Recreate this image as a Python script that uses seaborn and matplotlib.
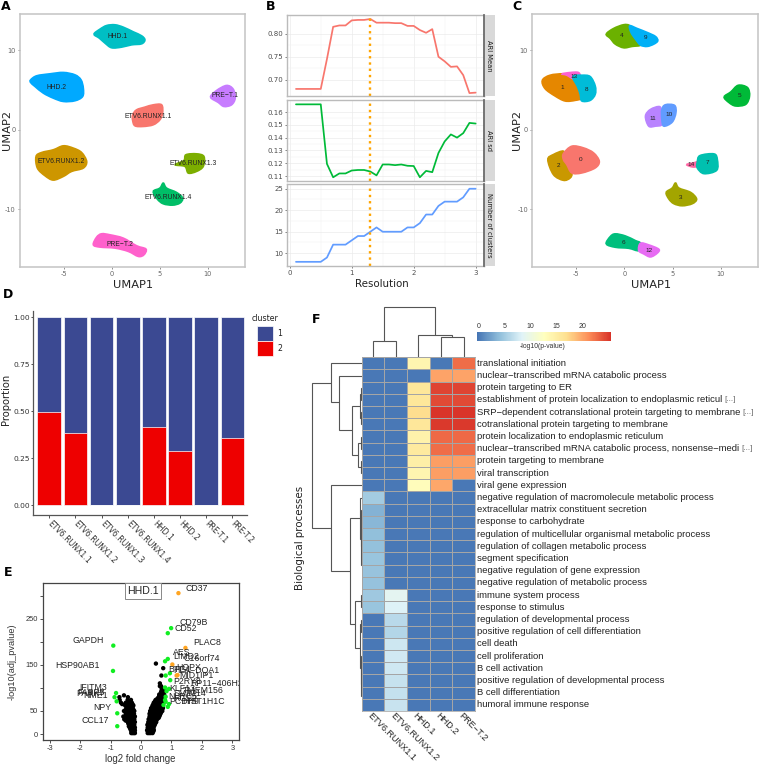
import numpy as np
import pandas as pd
import matplotlib
matplotlib.use('Agg')
import matplotlib.pyplot as plt
import seaborn as sns
from matplotlib.colors import LinearSegmentedColormap
from matplotlib.patches import PathPatch, Rectangle
from matplotlib.path import Path

W, H = 759, 765
SANS = 'Liberation Sans'

# panel A outlines, UMAP units
hhd1_x = [-1.84, -1.22, -0.52, 0.35, 1.22, 2.26, 3.13, 3.47, 3.13, 2.08, 1.04, 0, -0.69, -1.28]
hhd1_y = [12.06, 12.69, 13.15, 13.24, 12.94, 12.35, 11.85, 11.34, 10.84, 10.71, 10.42, 10.34, 10.92, 11.55]
hhd2_x = [-8.44, -7.81, -6.42, -5.03, -3.82, -3.19, -2.95, -3.02, -3.82, -5.03, -6.08, -7.12, -7.99, -8.44]
hhd2_y = [6.3, 6.81, 7.06, 7.23, 6.93, 6.3, 5.25, 4.2, 3.66, 3.57, 3.99, 4.62, 5.46, 5.96]
etv1_x = [2.19, 2.6, 3.47, 4.34, 5.21, 5.31, 5.03, 4.34, 3.3, 2.43, 2.19]
etv1_y = [1.89, 2.52, 2.86, 3.15, 3.15, 2.1, 1.26, 0.63, 0.42, 0.5, 1.18]
etv2_x = [-7.88, -7.29, -6.08, -5.03, -3.99, -3.13, -2.6, -2.95, -4.17, -5.03, -6.08, -6.94, -7.74]
etv2_y = [-3.36, -2.86, -2.52, -2.02, -2.31, -2.86, -3.99, -4.83, -5.25, -5.88, -6.34, -5.8, -4.83]
etv3_x = [6.6, 7.53, 7.74, 8.85, 9.62, 9.55, 8.85, 7.99, 7.64]
etv3_y = [-4.41, -3.87, -3.15, -3.03, -3.36, -4.62, -5.25, -5.46, -4.62]
etv4_x = [4.34, 5.03, 5.38, 5.73, 6.77, 7.4, 7.12, 6.35, 5.38, 4.76]
etv4_y = [-7.77, -7.35, -6.72, -7.35, -7.9, -8.61, -9.24, -9.5, -9.33, -8.74]
pre1_x = [10.31, 10.94, 11.98, 12.67, 12.88, 12.5, 11.7, 11.11]
pre1_y = [4.12, 4.96, 5.59, 5.13, 3.99, 3.15, 2.94, 3.45]
pre2_x = [-1.91, -1.56, -1.04, -0.17, 1.22, 2.6, 3.58, 3.37, 2.78, 1.74, 0.35, -1.22]
pre2_y = [-14.5, -13.53, -13.11, -13.24, -13.66, -14.62, -15.04, -15.76, -15.97, -15.34, -14.92, -14.79]

samples = ['ETV6.RUNX1.1', 'ETV6.RUNX1.2', 'ETV6.RUNX1.3', 'ETV6.RUNX1.4', 'HHD.1', 'HHD.2', 'PRE-T.1', 'PRE-T.2']
samples_label_x = [3.82, -5.28, 8.51, 5.9, 0.63, -5.73, 11.84, 0.87]
samples_label_y = [1.64, -3.95, -4.24, -8.49, 11.72, 5.34, 4.33, -14.45]

# panel C outlines, one per cluster
c0_x = [-6.32, -5.45, -4.24, -3.19, -2.6, -3.02, -4.41, -5.45, -5.97, -6.32]
c0_y = [-3, -2.07, -2.28, -2.91, -3.97, -4.81, -5.44, -5.44, -4.39, -3.76]
c1_x = [-8.51, -7.71, -6.32, -5.35, -4.93, -4.41, -5.1, -6.15, -7.19, -8.23]
c1_y = [6.24, 6.88, 7.05, 6.71, 5.32, 4.05, 3.71, 3.63, 4.26, 5.19]
c2_x = [-7.94, -7.36, -6.32, -6.32, -5.97, -5.45, -5.63, -6.32, -7.36]
c2_y = [-3.76, -3.12, -2.7, -3.76, -4.39, -5.44, -6.08, -6.37, -5.65]
c3_x = [4.34, 4.97, 5.31, 5.66, 6.88, 7.5, 7.05, 6.01, 5.14, 4.62]
c3_y = [-7.89, -7.34, -6.71, -7.34, -7.89, -8.73, -9.32, -9.58, -9.32, -8.73]
c4_x = [-1.88, -1.11, -0.07, 0.56, 0.69, 1.15, 1.67, 0.8, -0.07, -0.94, -1.46]
c4_y = [12.07, 12.78, 13.25, 13.12, 12.28, 11.43, 10.68, 10.51, 10.34, 10.8, 11.52]
c5_x = [10.35, 11.04, 11.81, 12.78, 12.99, 12.6, 11.56, 10.87]
c5_y = [4.14, 4.77, 5.61, 5.32, 4.26, 3.21, 3, 3.42]
c6_x = [-1.88, -1.46, -0.94, 0.1, 1.15, 1.67, 1.49, 0.45, -0.94]
c6_y = [-14.39, -13.46, -13.12, -13.38, -13.97, -14.3, -15.23, -14.94, -14.81]
c7_x = [7.57, 7.85, 9.31, 9.65, 9.58, 8.26, 7.57]
c7_y = [-4.05, -3.25, -3.04, -3.76, -5.11, -5.53, -4.81]
c8_x = [-5.35, -4.41, -3.54, -3.02, -3.02, -3.54, -4.41, -4.58, -4.86]
c8_y = [6.71, 6.88, 6.71, 5.53, 4.47, 3.71, 3.63, 4.47, 5.44]
c9_x = [0.56, 1.32, 2.36, 3.23, 3.47, 3.06, 2.36, 1.67, 1.15, 0.69]
c9_y = [13.12, 12.78, 12.28, 11.77, 11.22, 10.8, 10.51, 10.68, 11.43, 12.28]
c10_x = [3.89, 4.27, 5.21, 5.35, 4.97, 4.1, 3.89]
c10_y = [2.57, 3.16, 3.08, 2.15, 0.97, 0.46, 1.31]
c11_x = [2.19, 2.71, 3.68, 3.82, 3.92, 3.23, 2.53]
c11_y = [1.73, 2.57, 2.91, 1.94, 0.68, 0.46, 0.46]
c12_x = [1.67, 2.53, 3.58, 3.4, 2.71, 2.01, 1.49]
c12_y = [-14.3, -14.51, -15.06, -15.57, -16.03, -15.65, -15.23]
c13_x = [-6.49, -5.63, -4.76, -4.58, -5.21, -5.97]
c13_y = [7.05, 7.22, 7.22, 6.58, 6.37, 6.88]
c14_x = [6.46, 7.15, 7.64, 7.57, 7.05]
c14_y = [-4.39, -4.18, -4.05, -4.6, -4.68]
cluster_label_x = [-4.58, -6.42, -6.81, 5.87, -0.24, 11.91, -0.07, 8.58, -3.92, 2.22, 4.62, 2.99, 2.6, -5.21, 6.91]
cluster_label_y = [-3.71, 5.32, -4.56, -8.52, 11.86, 4.3, -14.22, -4.18, 5.02, 11.6, 1.94, 1.39, -15.23, 6.75, -4.43]

# panel B
resolution = [0.1, 0.2, 0.3, 0.4, 0.5, 0.6, 0.7, 0.8, 0.9, 1.0, 1.1, 1.2, 1.3, 1.4, 1.5,
              1.6, 1.7, 1.8, 1.9, 2.0, 2.1, 2.2, 2.3, 2.4, 2.5, 2.6, 2.7, 2.8, 2.9, 3.0]
ari_mean = [0.68, 0.68, 0.68, 0.68, 0.68, 0.745, 0.815, 0.818, 0.818, 0.829, 0.83, 0.83, 0.832, 0.824, 0.824,
            0.824, 0.823, 0.823, 0.817, 0.817, 0.808, 0.802, 0.81, 0.75, 0.74, 0.728, 0.729, 0.71, 0.671, 0.672]
ari_sd = [0.166, 0.166, 0.166, 0.166, 0.166, 0.1195, 0.109, 0.112, 0.112, 0.1143, 0.1147, 0.1147, 0.1135, 0.1105, 0.119,
          0.119, 0.1185, 0.119, 0.118, 0.1178, 0.109, 0.114, 0.113, 0.128, 0.137, 0.1425, 0.14, 0.1435, 0.1515, 0.151]
n_clusters = [8, 8, 8, 8, 8, 9, 12, 12, 12, 13, 14, 14, 15, 16, 15,
              15, 15, 15, 16, 16, 17, 19, 19, 21, 22, 22, 22, 23, 25, 25]

# panel D
proportion_total = [1, 1, 1, 1, 1, 1, 1, 1]
proportion_2 = [0.495, 0.385, 0, 0, 0.415, 0.29, 0, 0.355]

# panel E
orange_fc = [1.23, 1.46, 1.03, 1.17, 1.2]
orange_p = [306, 187, 151, 127, 128]
green_fc = [0.99, 0.88, -0.91, -0.92, 0.88, 0.79, 0.95, 0.81, 0.96, 0.79, 0.92, 0.84, 0.81, 0.81, 0.74, 0.92,
            0.88, 0.79, -0.82, -0.87, -0.8, -0.78, -0.78]
green_p = [230, 219, 192, 137, 163, 158, 132, 127, 117, 101, 98, 93, 81, 70, 63, 65,
           59, 74, 89, 80, 71, 45, 17]
black_left_levels = [2, 5, 8, 11, 14, 17, 20, 23, 26, 29, 32, 35, 38, 41, 44, 47, 50, 53, 56, 59, 62, 65, 68, 74, 80, 84]
black_left_rows = [[-0.2, -0.24, -0.28, -0.32], [-0.22, -0.26, -0.3], [-0.2, -0.27, -0.33], [-0.23, -0.3, -0.35],
                   [-0.2, -0.25, -0.31, -0.37], [-0.24, -0.33, -0.4], [-0.22, -0.3, -0.38], [-0.25, -0.34, -0.42],
                   [-0.2, -0.27, -0.35, -0.43], [-0.24, -0.32, -0.4, -0.5], [-0.22, -0.3, -0.38, -0.46, -0.55],
                   [-0.25, -0.34, -0.42, -0.5], [-0.2, -0.28, -0.36, -0.44, -0.58], [-0.26, -0.38, -0.46],
                   [-0.23, -0.33, -0.42, -0.5], [-0.28, -0.37, -0.45], [-0.22, -0.3, -0.38, -0.46, -0.56],
                   [-0.25, -0.33, -0.41, -0.5], [-0.27, -0.35, -0.44], [-0.3, -0.38, -0.48], [-0.25, -0.33, -0.42, -0.52],
                   [-0.28, -0.36, -0.46, -0.62], [-0.3, -0.38, -0.5, -0.66], [-0.33, -0.44, -0.7], [-0.43, -0.71], [-0.56]]
black_right_levels = [2, 5, 8, 11, 14, 17, 20, 23, 26, 29, 32, 35, 38, 41, 44, 47, 50, 53, 56, 59, 62, 65, 68, 71, 74,
                      77, 80, 83, 86, 92, 98, 104, 110, 127, 143, 153]
black_right_rows = [[0.22, 0.27, 0.32, 0.38], [0.24, 0.29, 0.35, 0.4], [0.2, 0.26, 0.31, 0.37, 0.42], [0.23, 0.29, 0.35, 0.41],
                    [0.22, 0.28, 0.34, 0.4], [0.24, 0.3, 0.37, 0.43], [0.21, 0.27, 0.33, 0.39, 0.45], [0.25, 0.32, 0.4, 0.47],
                    [0.24, 0.3, 0.36, 0.44, 0.5], [0.27, 0.34, 0.41, 0.49], [0.25, 0.31, 0.38, 0.45, 0.53],
                    [0.29, 0.36, 0.43, 0.51, 0.58], [0.28, 0.35, 0.42, 0.5, 0.6], [0.31, 0.38, 0.46, 0.54, 0.62],
                    [0.28, 0.34, 0.41, 0.48, 0.56, 0.64], [0.32, 0.4, 0.48, 0.57, 0.66],
                    [0.3, 0.38, 0.46, 0.54, 0.62, 0.7], [0.35, 0.43, 0.51, 0.6, 0.68], [0.33, 0.4, 0.48, 0.56, 0.66, 0.72],
                    [0.37, 0.45, 0.53, 0.62, 0.7], [0.38, 0.46, 0.54, 0.62, 0.7], [0.41, 0.49, 0.57, 0.65, 0.72],
                    [0.42, 0.5, 0.6, 0.68, 0.74], [0.46, 0.54, 0.62, 0.7], [0.48, 0.56, 0.64, 0.72],
                    [0.54, 0.62, 0.7, 0.75], [0.58, 0.66, 0.74], [0.6, 0.68, 0.75], [0.6, 0.7, 0.76],
                    [0.66, 0.74], [0.68, 0.76], [0.62, 0.66], [0.62], [0.67], [0.73], [0.49]]
gene_names = ['CD37', 'CD79B', 'CD52', 'GAPDH', 'PLAC8', 'AES', 'LIMD2', 'C16orf74', 'HOPX', 'BTG1', 'HLA\u2212DQA1',
              'MID1IP1', 'P2RY8', 'RP11\u2212406H23', 'KLF13', 'TMEM156', 'SMIM14', 'NLRC5', 'RGS2', 'HIST1H1C',
              'PCDH9', 'HSP90AB1', 'IFITM3', 'FABP5', 'PARK7', 'NME1', 'NPY', 'CCL17']
gene_fc = [1.82, 1.72, 1.47, -1.73, 2.18, 1.34, 1.5, 2.0, 1.56, 1.28, 1.83,
           1.83, 1.5, 2.55, 1.37, 2.05, 1.6, 1.37, 1.45, 2.05,
           1.43, -2.1, -1.56, -1.66, -1.66, -1.48, -1.28, -1.51]
gene_p = [317, 242, 230, 204, 199, 176, 168, 163, 145, 140, 138,
          128, 113, 109, 99, 95, 88, 81, 77, 71,
          71, 149, 102, 91, 88, 83, 57, 29]

# panel F
go_terms = ['translational initiation', 'nuclear\u2212transcribed mRNA catabolic process', 'protein targeting to ER',
            'establishment of protein localization to endoplasmic reticul', 'SRP\u2212dependent cotranslational protein targeting to membrane',
            'cotranslational protein targeting to membrane', 'protein localization to endoplasmic reticulum',
            'nuclear\u2212transcribed mRNA catabolic process, nonsense\u2212medi', 'protein targeting to membrane',
            'viral transcription', 'viral gene expression', 'negative regulation of macromolecule metabolic process',
            'extracellular matrix constituent secretion', 'response to carbohydrate',
            'regulation of multicellular organismal metabolic process', 'regulation of collagen metabolic process',
            'segment specification', 'negative regulation of gene expression', 'negative regulation of metabolic process',
            'immune system process', 'response to stimulus', 'regulation of developmental process',
            'positive regulation of cell differentiation', 'cell death', 'cell proliferation', 'B cell activation',
            'positive regulation of developmental process', 'B cell differentiation', 'humoral immune response']
go_truncated = [3, 4, 7]
go_samples = ['ETV6.RUNX1.1', 'ETV6.RUNX1.2', 'HHD.1', 'HHD.2', 'PRE\u2212T.2']
p_etv1 = [0] * 11 + [5, 3.3, 3.6, 4.1, 4.2, 4.5, 4.4, 4.3, 4.8, 4.5] + [0] * 8
p_etv2 = [0] * 19 + [8.8, 8.2, 6.2, 5.9, 7.3, 7.5, 7.4, 6.9, 6.8, 7.0]
p_hhd1 = [14, 0, 16, 16, 17, 16, 14.5, 15.5, 14.8, 14, 13] + [0] * 18
p_hhd2 = [0, 20, 24.5, 24.2, 25.2, 25, 22.8, 22.6, 20.3, 20.3, 19.8] + [0] * 18
p_pre2 = [22.6, 20, 24.5, 24.2, 25.2, 25, 22.8, 22.6, 20.3, 20.3, 0] + [0] * 18

# dendrogram merges: height, top leaf pos, top child height, bottom leaf pos, bottom child height
row_merges = [[49.3, 2.1, 30.7, 14.0, 31], [30.7, 0.5, 0, 3.7, 22.3], [22.3, 1.5, 0, 5.95, 9.3],
              [9.3, 4.0, 1.7, 8.0, 4], [1.7, 3.0, 1.0, 5.0, 0.8], [1.0, 2.5, 0, 3.5, 0], [0.8, 4.5, 0, 5.5, 0],
              [4, 7.0, 0.5, 9.0, 1.0], [0.5, 6.5, 0, 7.5, 0], [1.0, 8.5, 0, 9.5, 0],
              [31, 10.5, 0, 17.5, 11.3], [11.3, 13.2, 1.7, 21.9, 6.7], [1.7, 11.5, 0, 14.9, 1.0],
              [1.0, 12.5, 0, 15.5, 0.5], [0.5, 14, 0, 17, 0], [6.7, 19.97, 0.8, 23.85, 1.7], [0.8, 19.5, 0, 20.5, 0],
              [1.7, 21.9, 1, 25.5, 0.6], [1, 21.5, 0, 22.5, 0], [0.6, 24.5, 0, 26.8, 0.4], [0.4, 25.5, 0, 27.8, 0]]
col_merges = [[50.7, 1.0, 16.7, 3.25, 22], [16.7, 0.5, 0, 1.5, 0], [22, 2.5, 0, 4.0, 20], [20, 3.5, 0, 4.5, 0]]


def pxAxes(x0, y0, x1, y1):
    return fig.add_axes([x0 / W, 1 - y1 / H, (x1 - x0) / W, (y1 - y0) / H])


def pxText(x, y, s, **kw):
    return fig.text(x / W, 1 - y / H, s, ha=kw.pop('ha', 'center'), va=kw.pop('va', 'center'), **kw)


def drawBlob(ax, xs, ys, color):
    # closed curve through the traced outline points, control points from the neighbours
    p = np.column_stack([xs, ys])
    prev = np.roll(p, 1, axis=0)
    nxt = np.roll(p, -1, axis=0)
    nxt2 = np.roll(p, -2, axis=0)
    verts = [p[0]]
    codes = [Path.MOVETO]
    for i in range(len(p)):
        verts += [p[i] + (nxt[i] - prev[i]) / 6, nxt[i] - (nxt2[i] - p[i]) / 6, nxt[i]]
        codes += [Path.CURVE4, Path.CURVE4, Path.CURVE4]
    ax.add_patch(PathPatch(Path(np.array(verts), codes), facecolor=color, edgecolor=color, lw=1.2))


def umapAxes(x0, x1):
    ax = pxAxes(x0, 14, x1, 267)
    ax.set_xlim(-9.55, 13.9)
    ax.set_ylim(-17.3, 14.6)
    ax.set_xticks([-5, 0, 5, 10])
    ax.set_yticks([-10, 0, 10])
    ax.set_xticklabels(['-5', '0', '5', '10'])
    ax.set_yticklabels(['-10', '0', '10'])
    ax.tick_params(labelsize=4.8, length=1.5, width=0.5, colors='#666666', pad=1.5, left=True, bottom=True)
    for s in ax.spines.values():
        s.set_color('#C4C4C4')
        s.set_linewidth(1.1)
    return ax


sns.set_theme(style='white')
plt.rcParams['font.family'] = ['DejaVu Sans']
fig = plt.figure(figsize=(W / 100, H / 100), dpi=100)

# ---- A
axA = umapAxes(20, 245)
blobsA = [(etv1_x, etv1_y), (etv2_x, etv2_y), (etv3_x, etv3_y), (etv4_x, etv4_y),
          (hhd1_x, hhd1_y), (hhd2_x, hhd2_y), (pre1_x, pre1_y), (pre2_x, pre2_y)]
coloursA = ['#F8766D', '#CD9600', '#7CAE00', '#00BE67', '#00BFC4', '#00A9FF', '#C77CFF', '#FF61CC']
for (bx, by), colour in zip(blobsA, coloursA):
    drawBlob(axA, bx, by, colour)
for name, lx, ly in zip(samples, samples_label_x, samples_label_y):
    axA.text(lx, ly, name.replace('-', '\u2212'), ha='center', va='center', fontsize=4.9, family=SANS, color='#222222')
pxText(132.7, 285, 'UMAP1', fontsize=8.2, color='#222222')
pxText(7, 130, 'UMAP2', fontsize=8.2, rotation=90, color='#222222')

# ---- B
facets = [(ari_mean, '#F8766D', 'ARI Mean', 15, 96.3, (0.664, 0.8407), [0.70, 0.75, 0.80], 0.025),
          (ari_sd, '#00BA38', 'ARI sd', 100, 181, (0.1061, 0.1694), [0.11, 0.12, 0.13, 0.14, 0.15, 0.16], 0.005),
          (n_clusters, '#619CFF', 'Number of clusters', 184, 265.7, (7.1, 26.1), [10, 15, 20, 25], 2.5)]
for values, colour, strip, top, bottom, ylim, yticks, minorStep in facets:
    ax = pxAxes(287.3, top, 484.3, bottom)
    ax.set_axisbelow(True)
    sns.lineplot(x=resolution, y=values, color=colour, lw=1.25, errorbar=None, ax=ax)
    ax.axvline(1.3, color='#FFA500', ls=':', lw=1.7)
    ax.set_xlim(-0.04, 3.14)
    ax.set_ylim(*ylim)
    ax.set_yticks(yticks)
    ax.set_xticks([0, 1, 2, 3])
    ax.set_xticks([0.5, 1.5, 2.5], minor=True)
    ax.set_yticks(np.array(yticks[:-1]) + minorStep, minor=True)
    ax.grid(which='major', color='#EBEBEB', lw=0.5)
    ax.grid(which='minor', color='#F2F2F2', lw=0.35)
    ax.tick_params(which='minor', length=0)
    ax.tick_params(which='major', labelsize=5, length=1.5, width=0.5, colors='#4D4D4D', pad=1.5, left=True, bottom=True)
    if strip != 'Number of clusters':
        ax.tick_params(labelbottom=False, bottom=False)
    for s in ax.spines.values():
        s.set_color('#BBBBBB')
        s.set_linewidth(1.0)
    stripAx = pxAxes(484.3, top, 494.5, bottom)
    stripAx.set_facecolor('#D9D9D9')
    stripAx.set_xticks([])
    stripAx.set_yticks([])
    for s in stripAx.spines.values():
        s.set_visible(False)
    stripAx.spines['left'].set_visible(True)
    stripAx.spines['left'].set_color('#666666')
    stripAx.text(0.5, 0.5, strip, rotation=-90, ha='center', va='center', fontsize=4.9,
                 color='#1A1A1A', transform=stripAx.transAxes)
pxText(382, 284, 'Resolution', fontsize=7.4, color='#222222')

# ---- C
axC = umapAxes(532.3, 758.3)
blobsC = [(c1_x, c1_y), (c13_x, c13_y), (c8_x, c8_y), (c2_x, c2_y), (c0_x, c0_y), (c3_x, c3_y), (c4_x, c4_y),
          (c9_x, c9_y), (c5_x, c5_y), (c6_x, c6_y), (c12_x, c12_y), (c14_x, c14_y), (c7_x, c7_y), (c11_x, c11_y),
          (c10_x, c10_y)]
coloursC = ['#E58700', '#FD61D1', '#00BCD8', '#C99800', '#F8766D', '#A3A500', '#6BB100', '#00B0F6', '#00BA38',
            '#00BF7D', '#E76BF3', '#FF67A4', '#00C0AF', '#B983FF', '#619CFF']
for (bx, by), colour in zip(blobsC, coloursC):
    drawBlob(axC, bx, by, colour)
for i, (lx, ly) in enumerate(zip(cluster_label_x, cluster_label_y)):
    axC.text(lx, ly, str(i), ha='center', va='center', fontsize=4.6, family=SANS, color='#222222')
pxText(651, 285, 'UMAP1', fontsize=8.2, color='#222222')
pxText(516.7, 130, 'UMAP2', fontsize=8.2, rotation=90, color='#222222')

# ---- D
axD = pxAxes(33.3, 311, 247.3, 515)
sns.barplot(x=samples, y=proportion_total, color='#3B4992', saturation=1, width=0.9, edgecolor='white', lw=0.5, ax=axD)
sns.barplot(x=samples, y=proportion_2, color='#EE0000', saturation=1, width=0.9, edgecolor='white', lw=0.5, ax=axD)
axD.set_xlim(-0.61, 7.57)
axD.set_ylim(-0.0515, 1.032)
axD.set_yticks([0, 0.25, 0.5, 0.75, 1.0])
axD.set_yticklabels(['0.00', '0.25', '0.50', '0.75', '1.00'])
axD.set_xticks(range(len(samples)))
axD.set_xticklabels(samples, rotation=-45, ha='left', va='center', rotation_mode='anchor')
axD.tick_params(axis='x', labelsize=5.6, length=2, width=0.6, colors='#333333', pad=3, bottom=True)
axD.tick_params(axis='y', labelsize=5.4, length=1.5, width=0.6, colors='#333333', pad=1, left=True)
axD.set_ylabel('')
sns.despine(ax=axD)
axD.spines['left'].set_color('#555555')
axD.spines['bottom'].set_color('#555555')
axD.spines['left'].set_linewidth(0.9)
axD.spines['bottom'].set_linewidth(0.9)
pxText(6, 399, 'Proportion', fontsize=7.2, rotation=90, color='#222222')
pxText(252, 318, 'cluster', fontsize=5.7, ha='left', color='#222222')
legend_labels = ['1', '2']
legend_colours = ['#3B4992', '#EE0000']
for i, (lab, colour) in enumerate(zip(legend_labels, legend_colours)):
    fig.add_artist(Rectangle((257 / W, 1 - (340.5 + 15 * i) / H), 16 / W, 14 / H, facecolor=colour, edgecolor='white',
                             lw=0.5, transform=fig.transFigure))
    pxText(277, 333.5 + 15 * i, lab, fontsize=5.7, ha='left', color='#222222')

# ---- E
blackFc = [x for row in black_left_rows for x in row] + [x for row in black_right_rows for x in row]
blackP = [lv for lv, row in zip(black_left_levels, black_left_rows) for _ in row] + \
         [lv for lv, row in zip(black_right_levels, black_right_rows) for _ in row]
volcano = pd.DataFrame({'fc': blackFc + green_fc + orange_fc,
                        'p': blackP + green_p + orange_p,
                        'kind': ['ns'] * len(blackFc) + ['fc'] * len(green_fc) + ['both'] * len(orange_fc)})
axE = pxAxes(43, 583, 239, 740)
sns.scatterplot(data=volcano, x='fc', y='p', hue='kind', palette={'ns': 'black', 'fc': '#11EE22', 'both': '#FFA522'},
                s=10, linewidth=0, legend=False, ax=axE)
axE.set_xlim(-3.22, 3.22)
axE.set_ylim(-13, 328)
axE.set_xticks([-3, -2, -1, 0, 1, 2, 3])
axE.set_xticklabels(['-3', '-2', '-1', '0', '1', '2', '3'])
axE.set_yticks([0, 50, 100, 150, 200, 250, 300])
axE.set_yticklabels(['0', '50', '', '150', '', '250', ''])
axE.tick_params(labelsize=5.4, length=2, width=0.6, colors='#333333', pad=1.5, left=True, bottom=True)
for lab in axE.get_xticklabels() + axE.get_yticklabels():
    lab.set_family(SANS)
for s in axE.spines.values():
    s.set_color('#444444')
    s.set_linewidth(0.9)
axE.set_xlabel('')
axE.set_ylabel('')
for name, gx, gy in zip(gene_names, gene_fc, gene_p):
    axE.text(gx, gy, name, ha='center', va='center', fontsize=6.3, family=SANS, color='#222222', clip_on=True)
pxText(143, 591, 'HHD.1', fontsize=7.6, family=SANS, color='#222222',
       bbox=dict(boxstyle='square,pad=0.25', facecolor='white', edgecolor='#888888', lw=0.7))
pxText(140, 758.7, 'log2 fold change', fontsize=6.9, family=SANS, color='#333333')
pxText(12, 662, '-log10(adj_pvalue)', fontsize=6.6, family=SANS, rotation=90, color='#333333')

# ---- F
heat = pd.DataFrame({'etv1': p_etv1, 'etv2': p_etv2, 'hhd1': p_hhd1, 'hhd2': p_hhd2, 'pre2': p_pre2})
heatCmap = LinearSegmentedColormap.from_list('pheat', ['#4575B4', '#91BFDB', '#E0F3F8', '#FFFFBF', '#FEE090', '#FC8D59', '#D73027'])
axF = pxAxes(361.7, 357.3, 475, 711)
cbarAx = pxAxes(477, 332.3, 611.3, 341.3)
sns.heatmap(heat, cmap=heatCmap, vmin=-0.3, vmax=25.5, linewidths=0.55, linecolor='#A5A5A5', yticklabels=False,
            xticklabels=False, cbar_ax=cbarAx, square=False,
            cbar_kws={'orientation': 'horizontal', 'ticks': [0, 5, 10, 15, 20]}, ax=axF)
for i, name in enumerate(go_samples):
    axF.text(i + 0.33, 29.3, name, rotation=-45, ha='left', va='center', rotation_mode='anchor',
             family=SANS, fontsize=6.6, color='#222222', clip_on=False)
for s in ['top', 'bottom', 'left', 'right']:
    axF.spines[s].set_visible(True)
    axF.spines[s].set_color('#A5A5A5')
    axF.spines[s].set_linewidth(0.55)
for i, term in enumerate(go_terms):
    t = axF.text(5.11, i + 0.5, term, ha='left', va='center', fontsize=6.8, family=SANS, color='#222222')
    if i in go_truncated:
        axF.annotate('[...]', xy=(1, 0.5), xycoords=t, xytext=(1, 0), textcoords='offset points', ha='left', va='center',
                     fontsize=5.8, family=SANS, color='#666666')
cbarAx.xaxis.set_ticks_position('top')
cbarAx.tick_params(length=0, labelsize=5, colors='#333333', pad=2)
for lab in cbarAx.get_xticklabels():
    lab.set_family(SANS)
pxText(543, 347, '-log10(p-value)', fontsize=4.9, family=SANS, color='#333333')
pxText(300, 538, 'Biological processes', fontsize=7.4, rotation=90, color='#222222')

# dendrograms, heights in pixels from the heatmap edge
rowAx = pxAxes(305, 357.3, 361.7, 711)
rowAx.set_xlim(56.7, 0)
rowAx.set_ylim(29, 0)
rowAx.axis('off')
for h, a, ha, b, hb in row_merges:
    rowAx.plot([ha, h, h, hb], [a, a, b, b], color='#555555', lw=0.8, solid_joinstyle='miter')
colAx = pxAxes(361.7, 303, 475, 357.3)
colAx.set_xlim(0, 5)
colAx.set_ylim(0, 54.3)
colAx.axis('off')
for h, a, ha, b, hb in col_merges:
    colAx.plot([a, a, b, b], [ha, h, h, hb], color='#555555', lw=0.8, solid_joinstyle='miter')

# panel letters
letters = ['A', 'B', 'C', 'D', 'E', 'F']
letter_x = [6, 271, 517, 8, 8, 316]
letter_y = [7, 6, 6, 295, 572, 319]
for s, lx, ly in zip(letters, letter_x, letter_y):
    pxText(lx, ly, s, fontsize=9, fontweight='bold', color='black')

fig.savefig('out.png', dpi=100)
